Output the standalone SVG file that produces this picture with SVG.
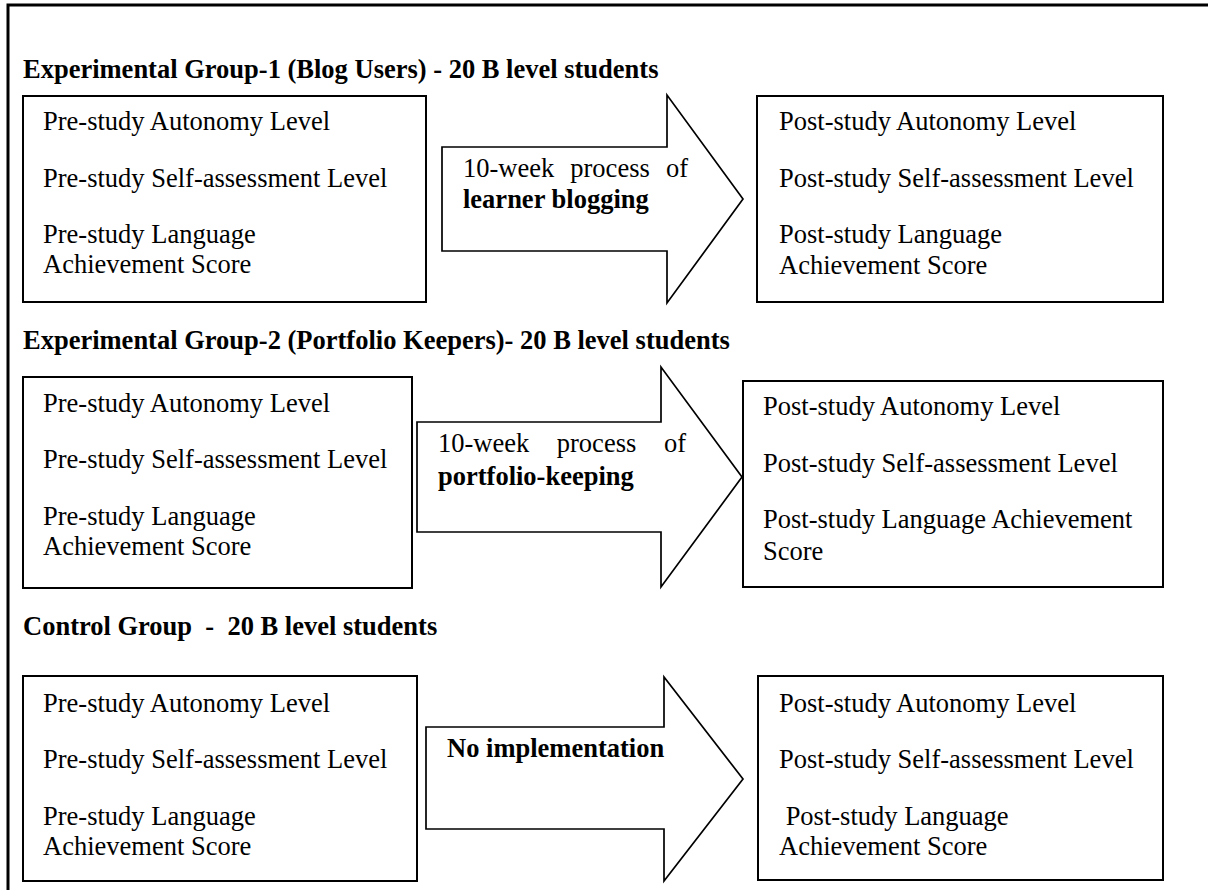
<svg xmlns="http://www.w3.org/2000/svg" width="1208" height="890" viewBox="0 0 1208 890">
<style>
text{font-family:"Liberation Serif","Times New Roman",serif;font-size:26.5px;fill:#000}
.b{font-weight:bold}
.box{fill:#fff;stroke:#000;stroke-width:2}
.arr{fill:#fff;stroke:#000;stroke-width:1.7;stroke-linejoin:miter}
.frame{fill:none;stroke:#000;stroke-width:3}
</style>
<rect width="1208" height="890" fill="#fff"/>
<path class="frame" d="M8,890 V5 H1208"/>

<g id="titles">
<text class="b" x="23" y="78">Experimental Group-1 (Blog Users) - 20 B level students</text>
<text class="b" x="23" y="349">Experimental Group-2 (Portfolio Keepers)- 20 B level students</text>
<text class="b" x="23" y="635" xml:space="preserve">Control Group  -  20 B level students</text>
</g>

<g id="pre1">
<rect class="box" x="23" y="96" width="403" height="206"/>
<text x="43" y="130">Pre-study Autonomy Level</text>
<text x="43" y="187">Pre-study Self-assessment Level</text>
<text x="43" y="243">Pre-study Language</text>
<text x="43" y="273">Achievement Score</text>
</g>
<g id="post1">
<rect class="box" x="757" y="96" width="406" height="206"/>
<text x="779" y="130">Post-study Autonomy Level</text>
<text x="779" y="187">Post-study Self-assessment Level</text>
<text x="779" y="243">Post-study Language</text>
<text x="779" y="274">Achievement Score</text>
</g>

<g id="pre2">
<rect class="box" x="23" y="377" width="389" height="211"/>
<text x="43" y="412">Pre-study Autonomy Level</text>
<text x="43" y="468">Pre-study Self-assessment Level</text>
<text x="43" y="525">Pre-study Language</text>
<text x="43" y="555">Achievement Score</text>
</g>
<g id="post2">
<rect class="box" x="743" y="381" width="420" height="206"/>
<text x="763" y="415">Post-study Autonomy Level</text>
<text x="763" y="472">Post-study Self-assessment Level</text>
<text x="763" y="528">Post-study Language Achievement</text>
<text x="763" y="560">Score</text>
</g>

<g id="pre3">
<rect class="box" x="23" y="676" width="394" height="205"/>
<text x="43" y="712">Pre-study Autonomy Level</text>
<text x="43" y="768">Pre-study Self-assessment Level</text>
<text x="43" y="825">Pre-study Language</text>
<text x="43" y="855">Achievement Score</text>
</g>
<g id="post3">
<rect class="box" x="758" y="676" width="405" height="204"/>
<text x="779" y="712">Post-study Autonomy Level</text>
<text x="779" y="768">Post-study Self-assessment Level</text>
<text x="779" y="825" xml:space="preserve"> Post-study Language</text>
<text x="779" y="855">Achievement Score</text>
</g>

<g id="connectors">
<g id="arrow1">
<polygon class="arr" points="442,147 667,147 667,95 743,199 667,303 667,251 442,251"/>
<text y="177"><tspan x="463">10-week</tspan><tspan x="570.3">process</tspan><tspan x="665.9">of</tspan></text>
<text class="b" x="463" y="208">learner blogging</text>
</g>
<g id="arrow2">
<polygon class="arr" points="417,422 661,422 661,367 742,477 661,587 661,532 417,532"/>
<text y="452"><tspan x="438">10-week</tspan><tspan x="556.8">process</tspan><tspan x="663.9">of</tspan></text>
<text class="b" x="438" y="485">portfolio-keeping</text>
</g>
<g id="arrow3">
<polygon class="arr" points="426,727 664,727 664,677 743,779 664,881 664,829 426,829"/>
<text class="b" x="447" y="757">No implementation</text>
</g>
</g>
</svg>
